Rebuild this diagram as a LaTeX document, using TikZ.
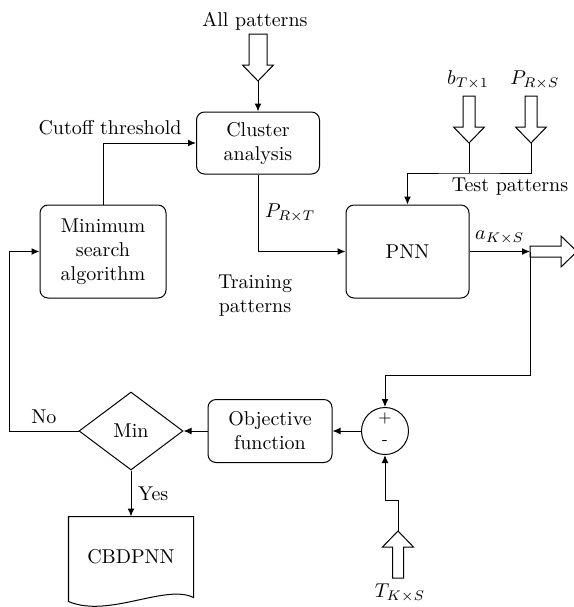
\documentclass[tikz,border=0pt]{standalone}
\usepackage{amsmath}
\usepackage{tikz}
\usetikzlibrary{arrows.meta,shapes.geometric,calc}

\begin{document}
\begin{tikzpicture}[x=0.5pt, y=-0.5pt, line width=0.5pt,
		box/.style={draw, rounded corners=4pt, align=center, inner sep=1pt},
		arr/.style={-{Latex[length=4pt,width=3.4pt]}},
		pics/hollow/.style={code={
			\draw (-#1,-47) -- (-#1,-16) -- (-15.5,-16) -- (0,0) -- (15.5,-16) -- (#1,-16) -- (#1,-47) -- cycle;
			\coordinate (-tip) at (0,0);
			\coordinate (-tail) at (0,-47);
		}}]
		\useasboundingbox (0,0) rectangle (574,607);
		%%
		\node[box, minimum width=61.5pt, minimum height=31pt] (cluster) at (258,143) {Cluster\\analysis};
		\node[box, minimum width=63pt, minimum height=46.5pt] (minsearch) at (103,251.5) {Minimum\\search\\algorithm};
		\node[box, minimum width=61.5pt, minimum height=46.5pt] (pnn) at (407.5,251.5) {PNN};
		\node[box, minimum width=62pt, minimum height=31.5pt] (objective) at (270,431) {Objective\\function};
		\node[draw, diamond, minimum width=52pt, minimum height=39pt, inner sep=0pt] (decide) at (131,431) {Min};
		\node[draw, circle, minimum size=23.5pt, inner sep=0pt] (sum) at (385,431) {};
		\node[font=\footnotesize] (plus) at (385,418) {+};
		\node[font=\footnotesize] (minus) at (385,443) {-};
		\node[minimum width=62pt, minimum height=40pt] (result) at (131,557) {CBDPNN};
		\draw (result.north west) -- (result.north east) -- (result.south east)
			.. controls ($(result.south east)+(-28,-14)$) and ($(result.south west)+(40,21)$) .. ($(result.south west)+(0,4)$) -- cycle;
		%%
		\pic (allin) at (258,81) {hollow=9};
		\pic (bin) at (469,143) {hollow=6};
		\pic (pin) at (531,143) {hollow=6};
		\pic[rotate=90] (aout) at (577,251.5) {hollow=5.5};
		\pic[rotate=180] (tin) at (398,531) {hollow=5.5};
		%%
		\node (allpat) at (255,21) {All patterns};
		\node (cutoff) at (110,128) {Cutoff threshold};
		\node[align=center] (train) at (255,296) {Training\\patterns};
		\node (testpat) at (510,187) {Test patterns};
		\node (blabel) at (468,80) {$b_{T\times 1}$};
		\node (plabel) at (535,80) {$P_{R\times S}$};
		\node (tlabel) at (400,593) {$T_{K\times S}$};
		%%
		\draw[arr] (allin-tip) -- (cluster.north);
		\draw[arr] (minsearch.north) |- (cluster.west);
		\draw[arr] (cluster.south) |- (pnn.west) node[pos=0.25, right] {$P_{R\times T}$};
		\coordinate (merge) at (469,173);
		\draw (bin-tip) -- (merge);
		\draw[arr] (pin-tip) |- (merge) -| (pnn.north);
		\draw[arr] (pnn.east) -- (aout-tail) node[midway, above] {$a_{K\times S}$};
		%%
		\coordinate (fb) at (530,375);
		\draw[arr] (aout-tail) -- (fb) -| (sum.north);
		\coordinate (tb) at (398,500);
		\draw[arr] (tin-tip) -- (tb) -| (sum.south);
		\draw[arr] (sum.west) -- (objective.east);
		\draw[arr] (objective.west) -- (decide.east);
		\coordinate (loop) at (9,431);
		\draw[arr] (decide.west) -- (loop) node[midway, above] {No} |- (minsearch.west);
		\draw[arr] (decide.south) -- (result.north) node[midway, right] {Yes};
	\end{tikzpicture}
\end{document}
